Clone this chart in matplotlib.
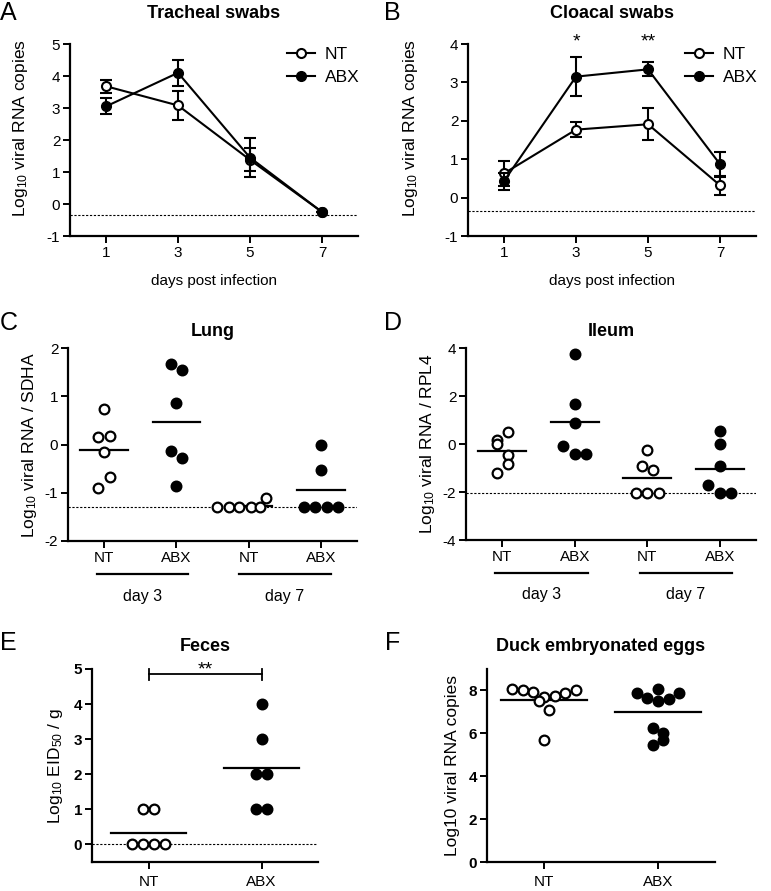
import numpy as np
import matplotlib.pyplot as plt
from matplotlib.transforms import blended_transform_factory

plt.rcParams['font.family'] = ['Liberation Sans', 'DejaVu Sans']
plt.rcParams['axes.unicode_minus'] = False
plt.rcParams['mathtext.default'] = 'regular'

# ---- data ----
days = [1, 3, 5, 7]

# A: tracheal swabs, mean and SEM
trach_nt = [3.68, 3.08, 1.38, -0.25]
trach_nt_err = [0.20, 0.45, 0.36, 0.0]
trach_abx = [3.05, 4.10, 1.45, -0.25]
trach_abx_err = [0.25, 0.41, 0.62, 0.0]

# B: cloacal swabs
cloac_nt = [0.63, 1.77, 1.91, 0.32]
cloac_nt_err = [0.32, 0.20, 0.42, 0.25]
cloac_abx = [0.43, 3.15, 3.34, 0.87]
cloac_abx_err = [0.22, 0.50, 0.18, 0.33]
cloac_stars = ['', '*', '**', '']

groups4 = ['NT', 'ABX', 'NT', 'ABX']

# C: lung, per bird
lung = [
    [0.74, 0.15, 0.18, -0.15, -0.68, -0.90],
    [1.67, 1.54, 0.87, -0.13, -0.29, -0.85],
    [-1.30, -1.30, -1.30, -1.30, -1.30, -1.10],
    [0.00, -0.52, -1.30, -1.30, -1.30, -1.30],
]
# D: ileum
ileum = [
    [0.48, 0.16, 0.00, -0.47, -0.85, -1.19],
    [3.76, 1.68, 0.88, -0.09, -0.42, -0.42],
    [-0.24, -0.91, -1.09, -2.05, -2.05, -2.05],
    [0.53, -0.02, -0.91, -1.71, -2.05, -2.05],
]
# E: feces
groups2 = ['NT', 'ABX']
feces = [
    [1, 1, 0, 0, 0, 0],
    [4, 3, 2, 2, 1, 1],
]
# F: duck embryonated eggs
eggs = [
    [8.06, 8.00, 7.92, 7.69, 7.49, 7.72, 7.88, 8.03, 7.10, 5.70],
    [7.88, 7.67, 8.06, 7.52, 7.60, 7.88, 6.24, 6.00, 5.67, 5.44],
]

# ---- horizontal scatter offsets (layout, in marker steps) ----
lung_offs = [
    [0, -0.5, 0.5, 0, 0.5, -0.5],
    [-0.5, 0.5, 0, -0.5, 0.5, 0],
    [-2.7, -1.7, -0.8, 0.2, 1.0, 1.5],
    [0, 0, -1.5, -0.5, 0.5, 1.5],
]
ileum_offs = [
    [0.5, -0.5, -0.5, 0.5, 0.5, -0.5],
    [0, 0, 0, -1, 0, 1],
    [0, -0.5, 0.5, -1, 0, 1],
    [0, 0, 0, -1, 0, 1],
]
feces_offs = [
    [-0.5, 0.5, -1.5, -0.5, 0.5, 1.5],
    [0, 0, -0.5, 0.5, -0.5, 0.5],
]
eggs_offs = [
    [-3, -2, -1, 0, -0.5, 1, 2, 3, 0.5, 0],
    [-2, -1, 0, 0, 1, 2, -0.5, 0.5, 0.5, -0.5],
]

W, H = 771, 891
fig = plt.figure(figsize=(W / 100, H / 100), dpi=100)


def add_ax(l, r, t, b):
    return fig.add_axes([l / W, 1 - b / H, (r - l) / W, (b - t) / H])


def style(ax):
    for s in ['top', 'right']:
        ax.spines[s].set_visible(False)
    for s in ['left', 'bottom']:
        ax.spines[s].set_linewidth(1.6)
    ax.tick_params(width=1.4, length=5, labelsize=11, pad=2)


def timecourse(ax, nt, nt_err, abx, abx_err, ylim, lod, title, label_x):
    style(ax)
    ax.errorbar(days, nt, yerr=nt_err, color='black', lw=1.5, marker='o', ms=6.5,
                mfc='white', mec='black', mew=1.5, capsize=4, capthick=1.5,
                elinewidth=1.5, label='NT', zorder=3)
    ax.errorbar(days, abx, yerr=abx_err, color='black', lw=1.5, marker='o', ms=7,
                mfc='black', mec='black', capsize=4, capthick=1.5,
                elinewidth=1.5, label='ABX', zorder=4)
    ax.axhline(lod, color='black', lw=0.8, ls=(0, (2, 1.5)), zorder=1)
    ax.set_xlim(0, 8)
    ax.set_ylim(*ylim)
    ax.set_xticks(days)
    ax.set_yticks(range(ylim[0], ylim[1] + 1))
    ax.set_xlabel('days post infection', fontsize=11, labelpad=10)
    ax.set_ylabel('Log$_{10}$ viral RNA copies', fontsize=12.5)
    ax.yaxis.set_label_coords(label_x, 0.56)
    ax.set_title(title, fontsize=13, fontweight='bold', pad=19)
    h, lab = ax.get_legend_handles_labels()
    h = [x[0] for x in h]
    ax.legend(h, lab, loc='upper right', bbox_to_anchor=(1.03, 1.02), frameon=False,
              fontsize=12.5, handlelength=1.6, handletextpad=0.6, labelspacing=0.45,
              borderaxespad=0)


def dots(ax, groups, offs, step, width, lod=None):
    for i, (vals, off) in enumerate(zip(groups, offs)):
        x0 = i + 1
        filled = (i % 2 == 1)
        xs = x0 + np.array(off) * step
        ax.plot(xs, vals, 'o', ms=7, mfc='black' if filled else 'white',
                mec='black', mew=1.6, ls='none', zorder=3, clip_on=False)
        m = np.mean(vals)
        ax.plot([x0 - width, x0 + width], [m, m], color='black', lw=1.6, zorder=2)
    if lod is not None:
        ax.axhline(lod, color='black', lw=0.8, ls=(0, (2, 1.5)), zorder=1)


def day_labels(ax, spans):
    tr = blended_transform_factory(ax.transData, ax.transAxes)
    for (a, b), txt in zip(spans, ['day 3', 'day 7']):
        ax.plot([a, b], [-0.17, -0.17], color='black', lw=1.6, transform=tr, clip_on=False)
        ax.text((a + b) / 2, -0.285, txt, transform=tr, ha='center', va='center', fontsize=11.5)


def letter(x, y, s):
    fig.text(x / W, 1 - y / H, s, fontsize=18, ha='left', va='center')


# A
axA = add_ax(70, 358, 44, 236)
timecourse(axA, trach_nt, trach_nt_err, trach_abx, trach_abx_err, (-1, 5), -0.35,
           'Tracheal swabs', -0.138)
letter(0, 13, 'A')

# B
axB = add_ax(468, 756, 44, 236)
timecourse(axB, cloac_nt, cloac_nt_err, cloac_abx, cloac_abx_err, (-1, 4), -0.35,
           'Cloacal swabs', -0.167)
for d, s in zip(days, cloac_stars):
    if s:
        axB.text(d, 4.05, s, ha='center', va='center', fontsize=14, clip_on=False)
letter(384, 13, 'B')

# C
axC = add_ax(68, 357, 348, 541)
style(axC)
dots(axC, lung, lung_offs, 0.16, 0.33, lod=-1.3)
axC.set_xlim(0.5, 4.5)
axC.set_ylim(-2, 2)
axC.set_yticks([-2, -1, 0, 1, 2])
axC.set_xticks(range(1, 5))
axC.set_xticklabels(groups4)
axC.set_ylabel('Log$_{10}$ viral RNA / SDHA', fontsize=12.5, labelpad=4)
axC.set_title('Lung', fontsize=13, fontweight='bold', pad=9)
day_labels(axC, [(0.9, 2.16), (2.86, 4.14)])
letter(0, 323, 'C')

# D
axD = add_ax(466, 756, 348, 540)
style(axD)
dots(axD, ileum, ileum_offs, 0.157, 0.33, lod=-2.05)
axD.set_xlim(0.5, 4.5)
axD.set_ylim(-4, 4)
axD.set_yticks([-4, -2, 0, 2, 4])
axD.set_xticks(range(1, 5))
axD.set_xticklabels(groups4)
axD.set_ylabel('Log$_{10}$ viral RNA / RPL4', fontsize=12.5, labelpad=4)
axD.set_title('Ileum', fontsize=13, fontweight='bold', pad=9)
day_labels(axD, [(0.9, 2.18), (2.9, 4.17)])
letter(384, 323, 'D')

# E
axE = add_ax(92, 318, 669, 862)
style(axE)
dots(axE, feces, feces_offs, 0.097, 0.33, lod=0)
axE.set_xlim(0.5, 2.5)
axE.set_ylim(-0.5, 5)
axE.spines['left'].set_bounds(-0.5, 5)
axE.set_yticks(range(0, 6))
axE.set_xticks([1, 2])
axE.set_xticklabels(groups2)
axE.tick_params(axis='x', pad=4)
for t in axE.get_yticklabels():
    t.set_fontweight('bold')
axE.set_ylabel('Log$_{10}$ EID$_{50}$ / g', fontsize=12.5, labelpad=6)
axE.set_title('Feces', fontsize=13, fontweight='bold', pad=13)
axE.plot([1, 2], [4.87, 4.87], color='black', lw=1.3, clip_on=False)
axE.plot([1, 1], [4.68, 5.0], color='black', lw=1.3, clip_on=False)
axE.plot([2, 2], [4.68, 5.0], color='black', lw=1.3, clip_on=False)
axE.text(1.5, 4.85, '**', ha='center', va='baseline', fontsize=14)
letter(0, 643, 'E')

# F
axF = add_ax(487, 715, 669, 862)
style(axF)
dots(axF, eggs, eggs_offs, 0.094, 0.38)
axF.set_xlim(0.5, 2.5)
axF.set_ylim(0, 9)
axF.set_yticks([0, 2, 4, 6, 8])
axF.set_xticks([1, 2])
axF.set_xticklabels(groups2)
axF.tick_params(axis='x', pad=4)
for t in axF.get_yticklabels():
    t.set_fontweight('bold')
axF.set_ylabel('Log10 viral RNA copies', fontsize=12.5, labelpad=6)
axF.set_title('Duck embryonated eggs', fontsize=13, fontweight='bold', pad=13)
letter(385, 643, 'F')

fig.savefig('out.png', dpi=100)
